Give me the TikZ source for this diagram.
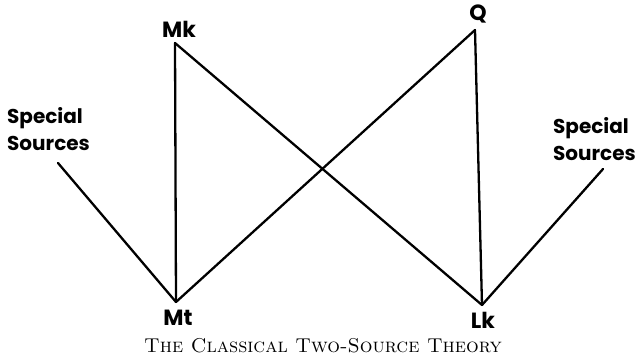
\documentclass[tikz,border=0pt]{standalone}
\usepackage{fontspec}
\newfontfamily\labfont{Poppins}[UprightFont=* Bold]
\begin{document}
\begin{tikzpicture}[x=1pt,y=-1pt,
  lab/.style={font=\labfont\fontsize{22}{24}\selectfont, inner sep=0pt},
  src/.style={font=\labfont\fontsize{20}{27}\selectfont, inner sep=0pt, align=left},
  edge/.style={line width=2.3pt, line cap=round, line join=round}]
\useasboundingbox (0,0) rectangle (637,360);
\coordinate (mk) at (175,43);
\coordinate (q) at (475,30);
\coordinate (mt) at (176,302);
\coordinate (lk) at (482,305);
\coordinate (ls) at (58,163);
\coordinate (rs) at (603,169);
\node[lab] (mklab) at (179,29) {Mk};
\node[lab] (qlab) at (478,14) {Q};
\node[lab] (mtlab) at (178,318) {Mt};
\node[lab] (lklab) at (483,320) {Lk};
\node[src, anchor=north west] (lsrc) at (7,107) {Special\\Sources};
\node[src, anchor=north east] (rsrc) at (636,117) {Special\\Sources};
\draw[edge] (mk) -- (mt);
\draw[edge] (mk) -- (lk);
\draw[edge] (q) -- (mt);
\draw[edge] (q) -- (lk);
\draw[edge] (ls) -- (mt);
\draw[edge] (rs) -- (lk);
\node[font=\fontsize{20}{22}\selectfont\scshape, inner sep=0pt] (cap) at (323,346) {The Classical Two-Source Theory};
\end{tikzpicture}
\end{document}
